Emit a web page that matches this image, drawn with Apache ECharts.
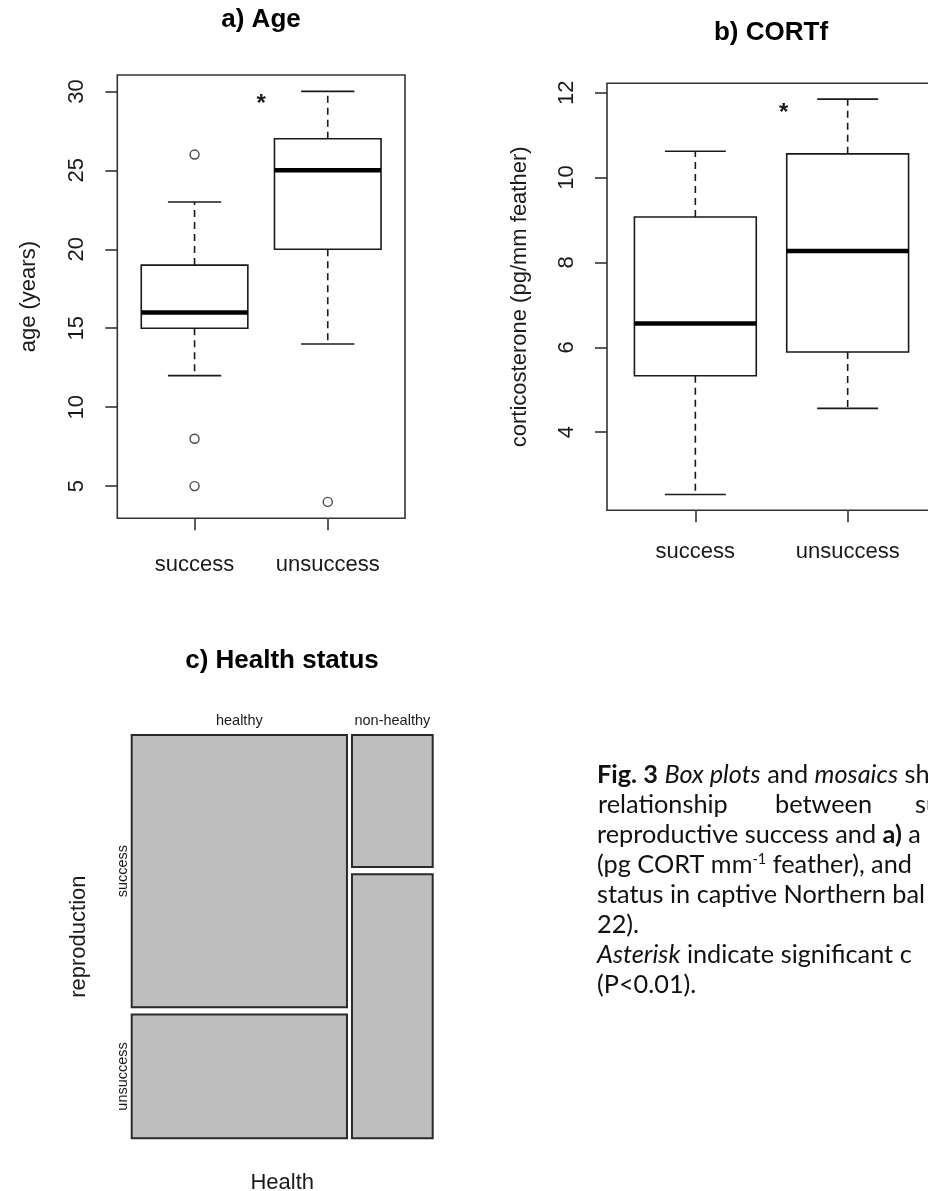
<!DOCTYPE html>
<html>
<head>
<meta charset="utf-8">
<script src="https://cdn.jsdelivr.net/npm/echarts@6/dist/echarts.min.js"></script>
<style>
  html, body { margin: 0; padding: 0; background: #fff; }
  #chart { width: 928px; height: 1191px; }
</style>
</head>
<body>
<div id="chart"></div>
<script>
// Group labels shared by both box plots
const groups = ['success', 'unsuccess'];

// a) Age (years): [lower whisker, Q1, median, Q3, upper whisker]
const ageSuccess = [12, 15, 16, 19, 23];
const ageUnsuccess = [14, 20, 25, 27, 30];
const ageOutliersSuccess = [26, 8, 5];
const ageOutliersUnsuccess = [4];
const ageTicks = [5, 10, 15, 20, 25, 30];
const ageStar = [1.5, 29.2];

// b) CORTf (pg/mm feather): [lower whisker, Q1, median, Q3, upper whisker]
const cortSuccess = [2.53, 5.33, 6.56, 9.07, 10.62];
const cortUnsuccess = [4.56, 5.89, 8.27, 10.56, 11.85];
const cortTicks = [4, 6, 8, 10, 12];
const cortStar = [1.58, 11.52];

// c) Health status x reproduction, counts of birds
const healthLevels = ['healthy', 'non-healthy'];
const reproLevels = ['success', 'unsuccess'];
const countsHealthy = [11, 5];
const countsNonHealthy = [2, 4];

const FONT = '"Liberation Sans", Arial, sans-serif';
const CAPTION_FONT = 'Lato, "Open Sans", sans-serif';
const CAPTION_SIZE = 25.3;
const INK = '#1a1a1a';
const FRAME = '#333';

// R-style axis range: data range widened by 4% on each side
function padRange(lo, hi) {
  const d = (hi - lo) * 0.04;
  return [lo - d, hi + d];
}
const xRange = padRange(0.5, 2.5);
const ageRange = padRange(
  Math.min(...ageSuccess, ...ageUnsuccess, ...ageOutliersSuccess, ...ageOutliersUnsuccess),
  Math.max(...ageSuccess, ...ageUnsuccess, ...ageOutliersSuccess, ...ageOutliersUnsuccess)
);
const cortRange = padRange(
  Math.min(...cortSuccess, ...cortUnsuccess),
  Math.max(...cortSuccess, ...cortUnsuccess)
);

// Box-and-whisker drawn with dashed whiskers and a heavy median bar
const BOX_WIDTH = 0.8;
function renderBox(params, api) {
  const x = api.value(0);
  const v = [1, 2, 3, 4, 5].map(k => api.value(k));
  const xl = api.coord([x - BOX_WIDTH / 2, v[0]])[0];
  const xr = api.coord([x + BOX_WIDTH / 2, v[0]])[0];
  const cl = api.coord([x - BOX_WIDTH / 4, v[0]])[0];
  const cr = api.coord([x + BOX_WIDTH / 4, v[0]])[0];
  const cx = api.coord([x, v[0]])[0];
  const y = v.map(val => api.coord([x, val])[1]);
  const solid = { stroke: INK, lineWidth: 1.6, fill: null };
  const dashed = { stroke: INK, lineWidth: 1.6, lineDash: [7, 5], fill: null };
  return {
    type: 'group',
    children: [
      { type: 'line', shape: { x1: cx, y1: y[1], x2: cx, y2: y[0] }, style: dashed },
      { type: 'line', shape: { x1: cx, y1: y[3], x2: cx, y2: y[4] }, style: dashed },
      { type: 'line', shape: { x1: cl, y1: y[0], x2: cr, y2: y[0] }, style: solid },
      { type: 'line', shape: { x1: cl, y1: y[4], x2: cr, y2: y[4] }, style: solid },
      { type: 'rect', shape: { x: xl, y: y[3], width: xr - xl, height: y[1] - y[3] },
        style: { stroke: INK, lineWidth: 1.6, fill: '#fff' } },
      { type: 'line', shape: { x1: xl, y1: y[2], x2: xr, y2: y[2] },
        style: { stroke: '#000', lineWidth: 4.5 } }
    ]
  };
}

function renderStar(params, api) {
  const p = api.coord([api.value(0), api.value(1)]);
  return {
    type: 'text',
    x: p[0], y: p[1],
    style: { text: '*', font: 'bold 24px ' + FONT, fill: INK, align: 'center', verticalAlign: 'middle' }
  };
}

// Mosaic cells: column widths follow health totals, heights follow reproduction shares
const X_GAP = 0.0166, Y_GAP = 0.018;
const mosaicCols = [countsHealthy, countsNonHealthy];
const mosaicTotal = mosaicCols.reduce((s, c) => s + c.reduce((a, b) => a + b, 0), 0);
const mosaicCells = [];
(function () {
  const availW = 1 - X_GAP * (mosaicCols.length - 1);
  let x0 = 0;
  mosaicCols.forEach((col, ci) => {
    const colTotal = col.reduce((a, b) => a + b, 0);
    const w = availW * colTotal / mosaicTotal;
    const availH = 1 - Y_GAP * (col.length - 1);
    let y0 = 0;
    col.forEach((n, ri) => {
      const h = availH * n / colTotal;
      mosaicCells.push([x0, x0 + w, y0, y0 + h, ci, ri, n]);
      y0 += h + Y_GAP;
    });
    x0 += w + X_GAP;
  });
})();

function renderCell(params, api) {
  const x0 = api.value(0), x1 = api.value(1), y0 = api.value(2), y1 = api.value(3);
  const ci = api.value(4), ri = api.value(5);
  const p0 = api.coord([x0, y0]);
  const p1 = api.coord([x1, y1]);
  const children = [{
    type: 'rect',
    shape: { x: p0[0], y: p0[1], width: p1[0] - p0[0], height: p1[1] - p0[1] },
    style: { fill: '#bebebe', stroke: '#2a2a2a', lineWidth: 2 }
  }];
  if (ri === 0) {
    children.push({
      type: 'text', x: (p0[0] + p1[0]) / 2, y: p0[1] - 7,
      style: { text: healthLevels[ci], font: '14.5px ' + FONT, fill: INK, align: 'center', verticalAlign: 'bottom' }
    });
  }
  if (ci === 0) {
    children.push({
      type: 'text', x: p0[0] - 9, y: (p0[1] + p1[1]) / 2, rotation: Math.PI / 2,
      style: { text: reproLevels[ri], font: '14.5px ' + FONT, fill: INK, align: 'center', verticalAlign: 'middle' }
    });
  }
  return { type: 'group', children };
}

function boxXAxis(gridIndex, margin) {
  return {
    type: 'value', gridIndex, min: xRange[0], max: xRange[1],
    axisLine: { show: false },
    splitLine: { show: false },
    axisTick: { show: true, inside: false, length: 12, customValues: [1, 2], lineStyle: { color: FRAME, width: 1.6 } },
    axisLabel: {
      customValues: [1, 2], margin, fontSize: 22, fontFamily: FONT, color: INK,
      formatter: v => groups[Math.round(v) - 1]
    }
  };
}
function boxYAxis(gridIndex, range, ticks, name, nameGap) {
  return {
    type: 'value', gridIndex, min: range[0], max: range[1],
    name, nameLocation: 'middle', nameGap, nameRotate: 90, nameMoveOverlap: false,
    nameTextStyle: { fontSize: 22, fontFamily: FONT, color: INK },
    axisLine: { show: false },
    splitLine: { show: false },
    axisTick: { show: true, inside: false, length: 12, customValues: ticks, lineStyle: { color: FRAME, width: 1.6 } },
    axisLabel: { customValues: ticks, rotate: 90, margin: 29, fontSize: 22, fontFamily: FONT, color: INK }
  };
}

const captionBase = 787;
const captionStep = 30;
const rich = {
  b: { fontWeight: 'bold', fontSize: CAPTION_SIZE, fontFamily: CAPTION_FONT, fill: '#111' },
  i: { fontStyle: 'italic', fontSize: CAPTION_SIZE, fontFamily: CAPTION_FONT, fill: '#111' },
  sup: { fontSize: 14.5, fontFamily: CAPTION_FONT, verticalAlign: 'top', fill: '#111' }
};
function captionText(text, x, line) {
  return {
    type: 'text', x, y: captionBase + captionStep * line,
    style: { text, rich, font: CAPTION_SIZE + 'px ' + CAPTION_FONT, fill: '#111', verticalAlign: 'bottom' }
  };
}

const option = {
  backgroundColor: '#fff',
  animation: false,
  grid: [
    { left: 117.3, top: 75, width: 287.7, height: 443.3, show: true, borderColor: FRAME, borderWidth: 1.6, backgroundColor: 'transparent', outerBoundsMode: 'none' },
    { left: 607, top: 83.3, width: 329, height: 427, show: true, borderColor: FRAME, borderWidth: 1.6, backgroundColor: 'transparent', outerBoundsMode: 'none' },
    { left: 131.7, top: 735, width: 301, height: 403.3, show: false, outerBoundsMode: 'none' }
  ],
  xAxis: [
    boxXAxis(0, 36),
    boxXAxis(1, 31),
    {
      type: 'value', gridIndex: 2, min: 0, max: 1,
      name: 'Health', nameLocation: 'middle', nameGap: 34, nameMoveOverlap: false,
      nameTextStyle: { fontSize: 22, fontFamily: FONT, color: INK },
      axisLine: { show: false }, axisTick: { show: false }, axisLabel: { show: false }, splitLine: { show: false }
    }
  ],
  yAxis: [
    boxYAxis(0, ageRange, ageTicks, 'age (years)', 77),
    boxYAxis(1, cortRange, cortTicks, 'corticosterone (pg/mm feather)', 76),
    {
      type: 'value', gridIndex: 2, min: 0, max: 1, inverse: true,
      name: 'reproduction', nameLocation: 'middle', nameGap: 42, nameRotate: 90, nameMoveOverlap: false,
      nameTextStyle: { fontSize: 22, fontFamily: FONT, color: INK },
      axisLine: { show: false }, axisTick: { show: false }, axisLabel: { show: false }, splitLine: { show: false }
    }
  ],
  series: [
    {
      type: 'custom', xAxisIndex: 0, yAxisIndex: 0, renderItem: renderBox,
      data: [[1, ...ageSuccess], [2, ...ageUnsuccess]]
    },
    {
      type: 'scatter', xAxisIndex: 0, yAxisIndex: 0, symbol: 'circle', symbolSize: 9,
      itemStyle: { color: '#fff', borderColor: INK, borderWidth: 1.4 },
      data: ageOutliersSuccess.map(v => [1, v]).concat(ageOutliersUnsuccess.map(v => [2, v]))
    },
    { type: 'custom', xAxisIndex: 0, yAxisIndex: 0, renderItem: renderStar, data: [ageStar] },
    {
      type: 'custom', xAxisIndex: 1, yAxisIndex: 1, renderItem: renderBox,
      data: [[1, ...cortSuccess], [2, ...cortUnsuccess]]
    },
    { type: 'custom', xAxisIndex: 1, yAxisIndex: 1, renderItem: renderStar, data: [cortStar] },
    { type: 'custom', xAxisIndex: 2, yAxisIndex: 2, renderItem: renderCell, data: mosaicCells }
  ],
  graphic: [
    { type: 'text', x: 261, y: 20, style: { text: 'a) Age', font: 'bold 26px ' + FONT, fill: '#000', align: 'center', verticalAlign: 'middle' } },
    { type: 'text', x: 771, y: 33, style: { text: 'b) CORTf', font: 'bold 26px ' + FONT, fill: '#000', align: 'center', verticalAlign: 'middle' } },
    { type: 'text', x: 282, y: 661, style: { text: 'c) Health status', font: 'bold 26px ' + FONT, fill: '#000', align: 'center', verticalAlign: 'middle' } },
    captionText('{b|Fig. 3} {i|Box plots} and {i|mosaics} sh', 597, 0),
    captionText('relationship', 598, 1),
    captionText('between', 775, 1),
    captionText('su', 915, 1),
    captionText('reproductive success and {b|a)} a', 597, 2),
    captionText('(pg CORT mm{sup|-1} feather), and', 597, 3),
    captionText('status in captive Northern bal', 597, 4),
    captionText('22).', 597, 5),
    captionText('{i|Asterisk} indicate significant c', 597, 6),
    captionText('(P<0.01).', 597, 7)
  ]
};

const chart = echarts.init(document.getElementById('chart'), null, { renderer: 'canvas' });
chart.setOption(option);
</script>
</body>
</html>
